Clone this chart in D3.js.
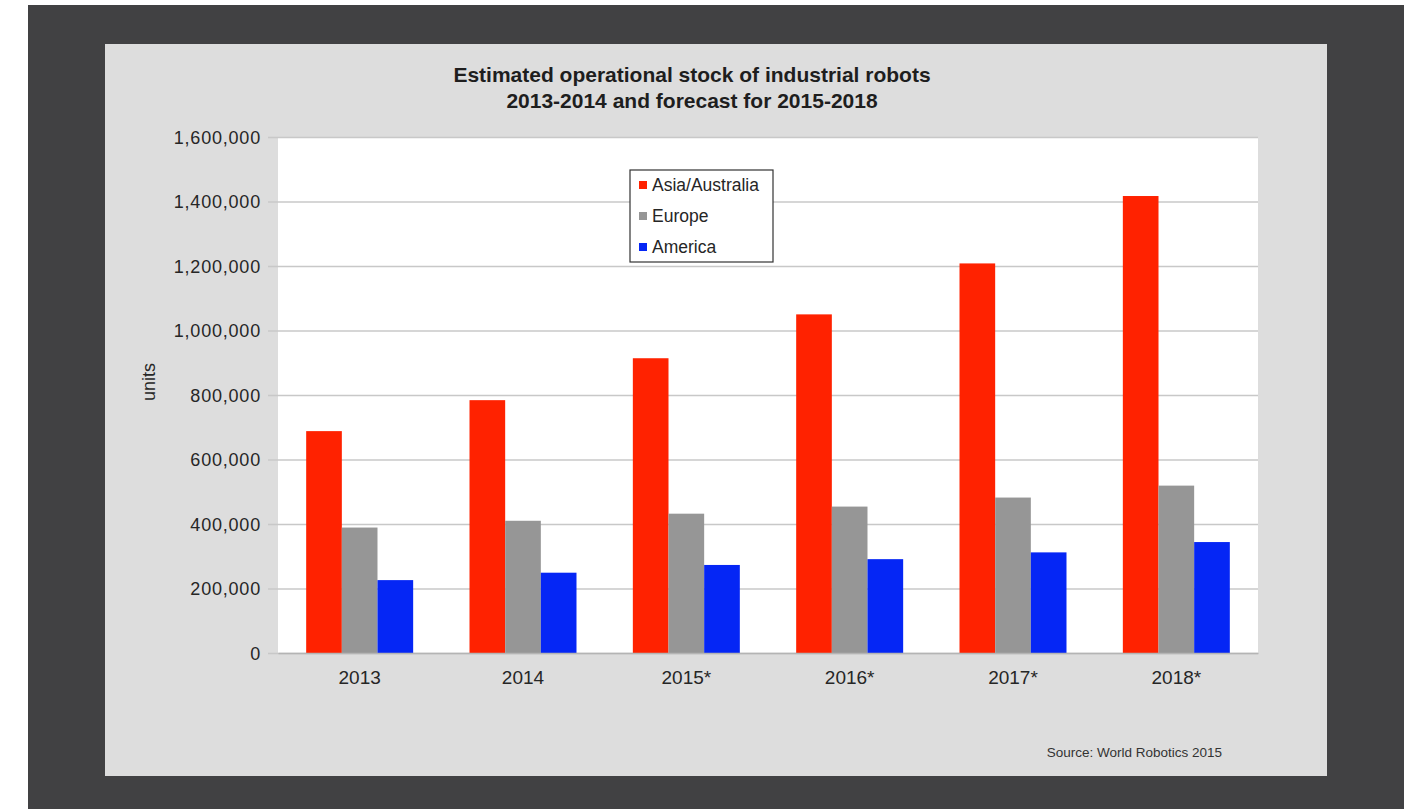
<!DOCTYPE html>
<html><head><meta charset="utf-8">
<script src="https://cdn.jsdelivr.net/npm/d3@7"></script>
<style>
html,body{margin:0;padding:0;background:#fff;}
svg{display:block;font-family:"Liberation Sans",Arial,sans-serif;}
</style></head>
<body>
<svg id="chart" width="1415" height="809"></svg>
<script>
const categories = ["2013","2014","2015*","2016*","2017*","2018*"];
const seriesNames = ["Asia/Australia","Europe","America"];
const asiaAustralia = [688000, 784000, 914000, 1050000, 1208000, 1417000];
const europe = [389000, 410000, 432000, 454000, 482000, 519000];
const america = [226000, 249000, 273000, 291000, 312000, 344000];
const yTicks = [0,200000,400000,600000,800000,1000000,1200000,1400000,1600000];
const colors = ["#ff2200","#969696","#0526f5"];

const seriesValues = [asiaAustralia, europe, america];
const svg = d3.select("#chart");

// backgrounds
svg.append("rect").attr("x",28).attr("y",5).attr("width",1376).attr("height",804).attr("fill","#414143");
svg.append("rect").attr("x",105).attr("y",44).attr("width",1222).attr("height",732).attr("fill","#dddddd");

const plot = {left:278, top:137, right:1258, bottom:653};
svg.append("rect").attr("x",plot.left).attr("y",plot.top)
  .attr("width",plot.right-plot.left).attr("height",plot.bottom-plot.top).attr("fill","#ffffff");

const y = d3.scaleLinear().domain([0,1600000]).range([plot.bottom, plot.top]);
const x0 = d3.scaleBand().domain(categories).range([plot.left, plot.right])
  .paddingInner(0.345).paddingOuter(0.1725);
const x1 = d3.scaleBand().domain(seriesNames).range([0, x0.bandwidth()]).padding(0);

// gridlines + y axis
const fmt = d3.format(",");
const yAxis = d3.axisLeft(y).tickValues(yTicks).tickFormat(fmt)
  .tickSize(-(plot.right-plot.left)).tickPadding(8);
const gy = svg.append("g").attr("transform",`translate(${plot.left},0)`).call(yAxis);
gy.select(".domain").remove();
gy.selectAll(".tick line").attr("stroke","#c8c8c8").attr("stroke-width",1.5)
  .attr("x1",-10).attr("x2",plot.right-plot.left);
gy.selectAll(".tick text").attr("fill","#262626").attr("font-size",18)
  .attr("letter-spacing","0.8px")
  .attr("x",-17).attr("dy","0.35em");

// bars
const groups = svg.append("g").selectAll("g").data(categories).join("g")
  .attr("transform", c => `translate(${x0(c)},0)`);
groups.selectAll("rect")
  .data((c,i) => seriesNames.map((s,j) => ({s, v: seriesValues[j][i], j})))
  .join("rect")
  .attr("x", d => x1(d.s))
  .attr("width", x1.bandwidth())
  .attr("y", d => y(d.v))
  .attr("height", d => y(0) - y(d.v))
  .attr("fill", d => colors[d.j]);

// x axis
const xAxis = d3.axisBottom(x0).tickSize(0).tickPadding(17);
const gx = svg.append("g").attr("transform",`translate(0,${plot.bottom})`).call(xAxis);
gx.select(".domain").attr("stroke","#b4b4b4").attr("stroke-width",1.5);
gx.selectAll(".tick text").attr("fill","#262626").attr("font-size",19).attr("dy","0.35em").attr("y",24);

// title
const title = svg.append("text").attr("x",692).attr("text-anchor","middle")
  .attr("font-weight","bold").attr("font-size",21).attr("fill","#1e1e1e");
title.append("tspan").attr("x",692).attr("y",82).text("Estimated operational stock of industrial robots");
title.append("tspan").attr("x",692).attr("y",108).text("2013-2014 and forecast for 2015-2018");

// y label
svg.append("text").attr("transform","translate(149,382) rotate(-90)")
  .attr("text-anchor","middle").attr("dy","0.35em").attr("font-size",18).attr("fill","#262626").text("units");

// legend
const lg = svg.append("g").attr("transform","translate(630,170)");
lg.append("rect").attr("width",143).attr("height",92).attr("fill","#ffffff")
  .attr("stroke","#333333").attr("stroke-width",1.2);
const li = lg.selectAll("g.item").data(seriesNames).join("g").attr("class","item")
  .attr("transform",(d,i)=>`translate(9,${15+i*31})`);
li.append("rect").attr("x",0).attr("y",-4).attr("width",8).attr("height",8)
  .attr("fill",(d,i)=>colors[i]);
li.append("text").attr("x",13).attr("y",0).attr("dy","0.35em").attr("font-size",17.5)
  .attr("fill","#262626").text(d=>d);

// source
svg.append("text").attr("x",1222).attr("y",757).attr("text-anchor","end")
  .attr("font-size",13.5).attr("fill","#333333").text("Source: World Robotics 2015");
</script>
</body></html>
